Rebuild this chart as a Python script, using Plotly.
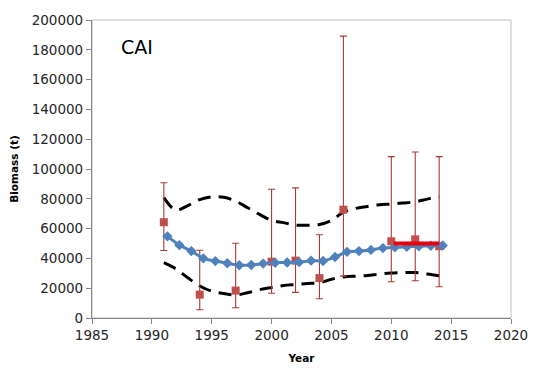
import plotly.graph_objects as go

# Model estimate (yearly, plotted at mid-year offset)
model_years = [1991.3 + i for i in range(24)]
model_biomass = [54800, 48900, 44900, 40000, 38200, 36700, 35400, 35600, 36500, 37100,
                 37200, 37500, 38500, 38300, 40900, 44400, 44900, 45700, 46900, 47500,
                 47800, 48200, 48500, 48700]

# Confidence bounds on the model estimate
ci_years = list(range(1991, 2015))
ci_upper = [80800, 72500, 75500, 79500, 81300, 81000, 78500, 74000, 69500, 65500,
            64000, 62300, 62300, 62800, 65500, 71000, 73500, 74800, 76000, 76500,
            77200, 78000, 79800, 81300]
ci_lower = [37100, 33000, 27000, 21500, 18000, 16500, 15500, 17000, 19000, 20500,
            21800, 22500, 23200, 23600, 26000, 27500, 28100, 28500, 29500, 30200,
            30500, 30500, 29500, 28300]

# Survey biomass with error bars
survey_years = [1991, 1994, 1997, 2000, 2002, 2004, 2006, 2010, 2012, 2014]
survey_biomass = [64300, 15700, 18400, 37800, 38500, 26800, 72700, 51500, 52800, 48200]
survey_hi = [90800, 45500, 50200, 86400, 87300, 55900, 189200, 108300, 111400, 108300]
survey_lo = [45300, 5500, 6900, 16600, 17200, 12900, 28100, 24300, 25000, 21000]

# Recent average
avg_years = [2010.2, 2014]
avg_biomass = [50000, 50000]

fig = go.Figure()

dash_style = dict(color="black", width=3, dash="13px,8px", shape="spline", smoothing=1)
fig.add_trace(go.Scatter(x=ci_years, y=ci_upper, mode="lines", line=dash_style,
                         showlegend=False, hoverinfo="skip"))
fig.add_trace(go.Scatter(x=ci_years, y=ci_lower, mode="lines", line=dash_style,
                         showlegend=False, hoverinfo="skip"))

fig.add_trace(go.Scatter(
    x=survey_years, y=survey_biomass, mode="markers",
    marker=dict(symbol="square", size=8, color="#C0504D"),
    error_y=dict(type="data", symmetric=False,
                 array=[h - v for h, v in zip(survey_hi, survey_biomass)],
                 arrayminus=[v - l for v, l in zip(survey_biomass, survey_lo)],
                 color="#A83A37", thickness=1.1, width=3.5),
    showlegend=False))

fig.add_trace(go.Scatter(
    x=model_years, y=model_biomass, mode="lines+markers",
    line=dict(color="#4F81BD", width=3, shape="spline", smoothing=0.6),
    marker=dict(symbol="diamond", size=8, color="#4F81BD"),
    showlegend=False))

fig.add_trace(go.Scatter(x=avg_years, y=avg_biomass, mode="lines",
                         line=dict(color="#E8000B", width=4), showlegend=False))

fig.add_annotation(text="CAI", xref="paper", yref="paper", x=0.065, y=0.91,
                   xanchor="left", yanchor="middle", showarrow=False,
                   font=dict(size=19, color="black", family="DejaVu Sans"))

fig.add_shape(type="rect", xref="paper", yref="paper", x0=0, y0=0, x1=1, y1=1,
              line=dict(color="#BFBFBF", width=1), layer="below")

axis_font = dict(family="DejaVu Sans", size=13.5, color="#262626")
title_font = dict(family="DejaVu Sans", size=10.5, color="black")
fig.update_layout(
    width=540, height=377,
    margin=dict(l=92, r=21, t=16, b=59),
    paper_bgcolor="white", plot_bgcolor="white",
    xaxis=dict(range=[1985, 2020], dtick=5, tick0=1985, showgrid=False, zeroline=False,
               showline=True, linecolor="#868686", linewidth=1.2,
               ticks="outside", ticklen=5, tickcolor="#868686", tickfont=axis_font,
               title=dict(text="<b>Year</b>", font=title_font, standoff=12)),
    yaxis=dict(range=[0, 200000], dtick=20000, showgrid=False, zeroline=False,
               showline=True, linecolor="#868686", linewidth=1.2,
               ticks="outside", ticklen=5, tickcolor="#868686", tickfont=axis_font,
               tickformat="d",
               title=dict(text="<b>Biomass (t)</b>", font=title_font, standoff=10)),
)

fig.write_html("out.html")
